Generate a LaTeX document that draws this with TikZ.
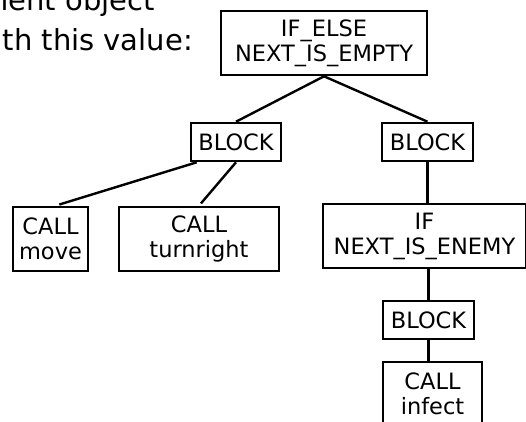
\documentclass[tikz,border=0pt]{standalone}
\usepackage{fontspec}
\setmainfont{DejaVu Sans}
\begin{document}
\begin{tikzpicture}[x=1pt,y=-1pt,
  box/.style={draw=black, line width=2.6pt, inner sep=0pt, align=center,
    font=\fontsize{22.5}{25}\selectfont},
  edge/.style={line width=2.4pt, draw=black},
  caption/.style={inner sep=0pt, font=\fontsize{29}{40}\selectfont}]
\useasboundingbox (0,0) rectangle (526,421);
\clip (0,0) rectangle (526,421);

% running text at the upper left
\node[caption, anchor=base east] (capA) at (155,10) {ment object};
\node[caption, anchor=base east] (capB) at (193,50) {th this value:};

% tree of statements
\node[box, minimum width=206pt, minimum height=64pt] (top) at (324,43) {IF\_ELSE\\NEXT\_IS\_EMPTY};
\node[box, minimum width=90pt, minimum height=38pt] (b1) at (236,142) {BLOCK};
\node[box, minimum width=91pt, minimum height=38pt] (b2) at (427.5,142) {BLOCK};
\node[box, minimum width=75pt, minimum height=64pt] (move) at (50.5,239) {CALL\\move};
\node[box, minimum width=160pt, minimum height=64pt] (turn) at (199,239) {CALL\\turnright};
\node[box, minimum width=203pt, minimum height=64pt] (ifn) at (424.5,236) {IF\\NEXT\_IS\_ENEMY};
\node[box, minimum width=91pt, minimum height=38pt] (b3) at (428.5,320) {BLOCK};
\node[box, minimum width=99pt, minimum height=64pt] (infect) at (432.5,394) {CALL\\infect};

% connectors
\draw[edge] (top.south) -- (b1.north);
\draw[edge] (top.south) -- (b2.north);
\draw[edge, shorten >=4pt] ([xshift=7pt]b1.south west) -- ([xshift=5pt]move.north);
\draw[edge, shorten >=3pt] (b1.south) -- (turn.north);
\draw[edge] (b2.south) -- (b2.south |- ifn.north);
\draw[edge] (b3.north |- ifn.south) -- (b3.north);
\draw[edge] (b3.south) -- (b3.south |- infect.north);
\end{tikzpicture}
\end{document}
